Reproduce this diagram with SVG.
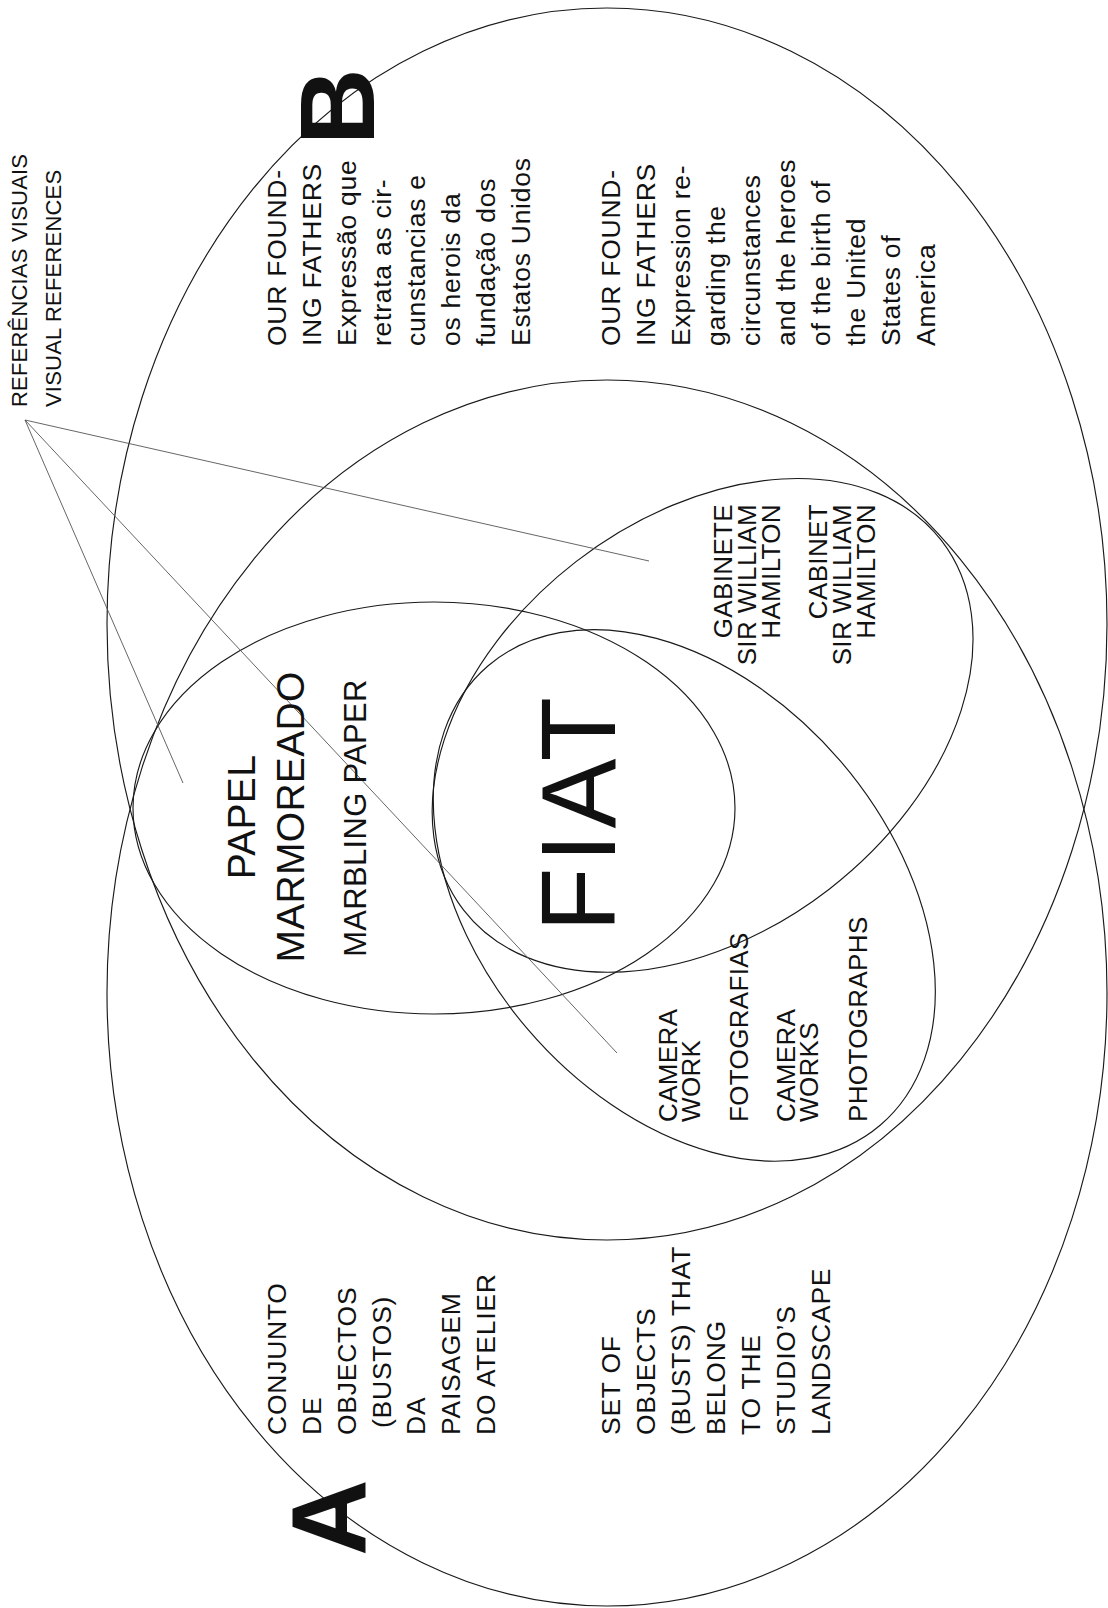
<svg xmlns="http://www.w3.org/2000/svg" width="1108" height="1608" viewBox="0 0 1108 1608">
<style>
.set{fill:none;stroke:#1a1a1a;stroke-width:1.15}
.ptr{fill:none;stroke:#555;stroke-width:0.9}
text{font-family:"Liberation Sans",Arial,Helvetica,sans-serif;fill:#111}
.body{font-size:26.5px;letter-spacing:0.75px}
.small{font-size:26px;letter-spacing:0.35px}
.lab{font-size:22px;letter-spacing:0.2px}
.big{font-size:106px;font-weight:bold}
.t38{font-size:39px;letter-spacing:0.3px}
.t31{font-size:31px;letter-spacing:0.3px}
.fiat{font-size:105px;letter-spacing:5px}
</style>
<rect width="1108" height="1608" fill="#fff"/>

<g id="set-B"><ellipse class="set" cx="607" cy="624" rx="500" ry="616"/></g>
<g id="set-A"><ellipse class="set" cx="607" cy="993" rx="500" ry="613"/></g>
<g id="set-marbling"><ellipse class="set" cx="434" cy="808" rx="301" ry="206"/></g>
<g id="set-cabinet"><ellipse class="set" cx="0" cy="0" rx="302" ry="207" transform="translate(702.6,725.4) rotate(-37.7)"/></g>
<g id="set-photographs"><ellipse class="set" cx="0" cy="0" rx="302" ry="206" transform="translate(684.3,895.4) rotate(49.5)"/></g>

<g id="connectors">
<line class="ptr" x1="25" y1="420" x2="649" y2="561"/>
<line class="ptr" x1="25" y1="420" x2="183" y2="783"/>
<line class="ptr" x1="25" y1="420" x2="617" y2="1053"/>
</g>

<g id="label-refs">
<text class="lab" transform="translate(27,407) rotate(-90)">REFERÊNCIAS VISUAIS</text>
<text class="lab" transform="translate(61,407) rotate(-90)">VISUAL REFERENCES</text>
</g>

<g id="label-B">
<text class="big" transform="translate(374,145) rotate(-90)">B</text>
</g>
<g id="label-A">
<text class="big" transform="translate(366,1556) rotate(-90)">A</text>
</g>

<g id="text-B-pt" class="body">
<text transform="translate(286,346) rotate(-90)">OUR FOUND-</text>
<text transform="translate(321,346) rotate(-90)">ING FATHERS</text>
<text transform="translate(356,346) rotate(-90)">Expressão que</text>
<text transform="translate(391,346) rotate(-90)">retrata as cir-</text>
<text transform="translate(425,346) rotate(-90)">cunstancias e</text>
<text transform="translate(460,346) rotate(-90)">os herois da</text>
<text transform="translate(495,346) rotate(-90)">fundação dos</text>
<text transform="translate(530,346) rotate(-90)">Estatos Unidos</text>
</g>

<g id="text-B-en" class="body">
<text transform="translate(620,346) rotate(-90)">OUR FOUND-</text>
<text transform="translate(655,346) rotate(-90)">ING FATHERS</text>
<text transform="translate(690,346) rotate(-90)">Expression re-</text>
<text transform="translate(725,346) rotate(-90)">garding the</text>
<text transform="translate(760,346) rotate(-90)">circunstances</text>
<text transform="translate(795,346) rotate(-90)">and the heroes</text>
<text transform="translate(830,346) rotate(-90)">of the birth of</text>
<text transform="translate(865,346) rotate(-90)">the United</text>
<text transform="translate(900,346) rotate(-90)">States of</text>
<text transform="translate(935,346) rotate(-90)">America</text>
</g>

<g id="text-A-pt" class="body">
<text transform="translate(286,1435) rotate(-90)">CONJUNTO</text>
<text transform="translate(321,1435) rotate(-90)">DE</text>
<text transform="translate(356,1435) rotate(-90)">OBJECTOS</text>
<text transform="translate(391,1428) rotate(-90)">(BUSTOS)</text>
<text transform="translate(425,1435) rotate(-90)">DA</text>
<text transform="translate(460,1435) rotate(-90)">PAISAGEM</text>
<text transform="translate(495,1435) rotate(-90)">DO ATELIER</text>
</g>

<g id="text-A-en" class="body">
<text transform="translate(620,1435) rotate(-90)">SET OF</text>
<text transform="translate(655,1435) rotate(-90)">OBJECTS</text>
<text transform="translate(690,1435) rotate(-90)">(BUSTS) THAT</text>
<text transform="translate(725,1435) rotate(-90)">BELONG</text>
<text transform="translate(760,1435) rotate(-90)">TO THE</text>
<text transform="translate(795,1435) rotate(-90)">STUDIO’S</text>
<text transform="translate(830,1435) rotate(-90)">LANDSCAPE</text>
</g>

<g id="text-marbling" text-anchor="middle">
<text class="t38" transform="translate(255,817) rotate(-90)">PAPEL</text>
<text class="t38" transform="translate(304,817) rotate(-90)">MARMOREADO</text>
<text class="t31" transform="translate(366,818) rotate(-90)">MARBLING PAPER</text>
</g>

<g id="text-fiat" text-anchor="middle">
<text class="fiat" transform="translate(615,812) rotate(-90)">FIAT</text>
</g>

<g id="text-cabinet" class="small" text-anchor="end">
<text transform="translate(732,504) rotate(-90)">GABINETE</text>
<text transform="translate(756,504) rotate(-90)">SIR WILLIAM</text>
<text transform="translate(779.5,504) rotate(-90)">HAMILTON</text>
<text transform="translate(827,504) rotate(-90)">CABINET</text>
<text transform="translate(851,504) rotate(-90)">SIR WILLIAM</text>
<text transform="translate(874.5,504) rotate(-90)">HAMILTON</text>
</g>

<g id="text-photographs" class="small">
<text transform="translate(677,1122) rotate(-90)">CAMERA</text>
<text transform="translate(700,1122) rotate(-90)">WORK</text>
<text transform="translate(748,1122) rotate(-90)">FOTOGRAFIAS</text>
<text transform="translate(795,1122) rotate(-90)">CAMERA</text>
<text transform="translate(818,1122) rotate(-90)">WORKS</text>
<text transform="translate(867,1122) rotate(-90)">PHOTOGRAPHS</text>
</g>
</svg>
